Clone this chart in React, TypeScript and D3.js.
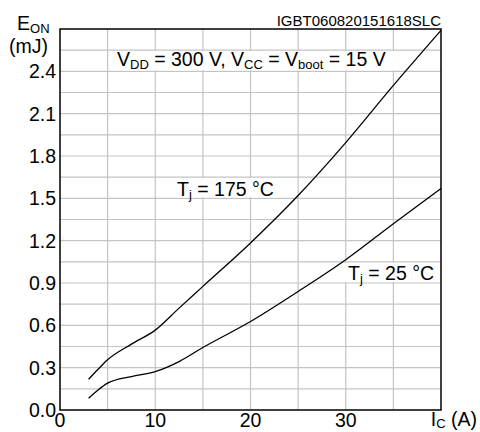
import React from 'react';
import * as d3 from 'd3';

// collector current (A) and turn-on energy (mJ)
const icHot = [3, 4, 5, 7.5, 10, 12.5, 15, 20, 25, 30, 35, 40];
const eonHot = [0.218, 0.289, 0.356, 0.467, 0.566, 0.722, 0.876, 1.184, 1.52, 1.895, 2.3, 2.69];
const icCold = [3, 4, 5, 7.5, 10, 12.5, 15, 20, 25, 30, 35, 40];
const eonCold = [0.083, 0.142, 0.19, 0.237, 0.272, 0.343, 0.443, 0.627, 0.84, 1.065, 1.32, 1.57];

const xTicks = [0, 10, 20, 30];
const yTicks = [0.0, 0.3, 0.6, 0.9, 1.2, 1.5, 1.8, 2.1, 2.4];
const xGrid = [5, 10, 15, 20, 25, 30, 35];
const yGrid = d3.range(1, 18).map(i => i * 0.15);

const W = 480, H = 432;
const left = 60, right = 441, top = 29, bottom = 410;
const font = '"Liberation Sans", Arial, sans-serif';
const fs = 19.5;
const sub = 13;

export default function App() {
  const x = d3.scaleLinear().domain([0, 40]).range([left, right]);
  const y = d3.scaleLinear().domain([0, 2.7]).range([bottom, top]);

  const line = d3.line<[number, number]>()
    .x(d => x(d[0]))
    .y(d => y(d[1]))
    .curve(d3.curveMonotoneX);

  const hot = icHot.map((v, i) => [v, eonHot[i]] as [number, number]);
  const cold = icCold.map((v, i) => [v, eonCold[i]] as [number, number]);

  return (
    <svg width={W} height={H} style={{ position: 'absolute', left: 0, top: 0, background: '#fff' }}
      fontFamily={font}>
      <rect x={0} y={0} width={W} height={H} fill="#fff" />
      {/* grid */}
      {xGrid.map(v => (
        <line key={'gx' + v} x1={x(v)} x2={x(v)} y1={top} y2={bottom} stroke="#c4c4c4" strokeWidth={1.2} />
      ))}
      {yGrid.map(v => (
        <line key={'gy' + v} x1={left} x2={right} y1={y(v)} y2={y(v)} stroke="#c4c4c4" strokeWidth={1.2} />
      ))}

      {/* label boxes */}
      <rect x={110} y={y(2.55) + 1} width={286} height={y(2.4) - y(2.55) - 2} fill="#fff" />
      <rect x={174} y={y(1.65) + 1} width={106} height={y(1.5) - y(1.65) - 2} fill="#fff" />
      <rect x={345} y={y(1.05) + 1} width={right - 345} height={y(0.9) - y(1.05) - 2} fill="#fff" />

      {/* curves */}
      <path d={line(hot) || ''} fill="none" stroke="#000" strokeWidth={1.3} />
      <path d={line(cold) || ''} fill="none" stroke="#000" strokeWidth={1.3} />

      {/* frame */}
      <rect x={left} y={top} width={right - left} height={bottom - top} fill="none" stroke="#000" strokeWidth={1.5} />

      {/* y ticks */}
      {yTicks.map(v => (
        <text key={'ty' + v} x={56} y={y(v)} dy="0.36em" textAnchor="end" fontSize={fs}>{v.toFixed(1)}</text>
      ))}
      {/* x ticks */}
      {xTicks.map(v => (
        <text key={'tx' + v} x={x(v)} y={427} textAnchor="middle" fontSize={fs}>{v}</text>
      ))}

      {/* axis titles */}
      <text x={17} y={30} fontSize={fs}>E<tspan fontSize={sub} dy={3}>ON</tspan></text>
      <text x={9} y={53} fontSize={fs}>(mJ)</text>
      <text x={477} y={426} textAnchor="end" fontSize={fs}>I<tspan fontSize={sub} dy={2}>C</tspan><tspan dy={-2}> (A)</tspan></text>

      <text x={right} y={26} textAnchor="end" fontSize={15}>IGBT060820151618SLC</text>

      <text x={117} y={66} fontSize={fs}>
        V<tspan fontSize={sub} dy={3}>DD</tspan><tspan dy={-3}> = 300 V, V</tspan><tspan fontSize={sub} dy={3}>CC</tspan><tspan dy={-3}> = V</tspan><tspan fontSize={sub} dy={3}>boot</tspan><tspan dy={-3}> = 15 V</tspan>
      </text>
      <text x={177} y={196} fontSize={fs}>
        T<tspan fontSize={sub} dy={3}>j</tspan><tspan dy={-3}> = 175 °C</tspan>
      </text>
      <text x={348} y={280} fontSize={fs}>
        T<tspan fontSize={sub} dy={3}>j</tspan><tspan dy={-3}> = 25 °C</tspan>
      </text>
    </svg>
  );
}
